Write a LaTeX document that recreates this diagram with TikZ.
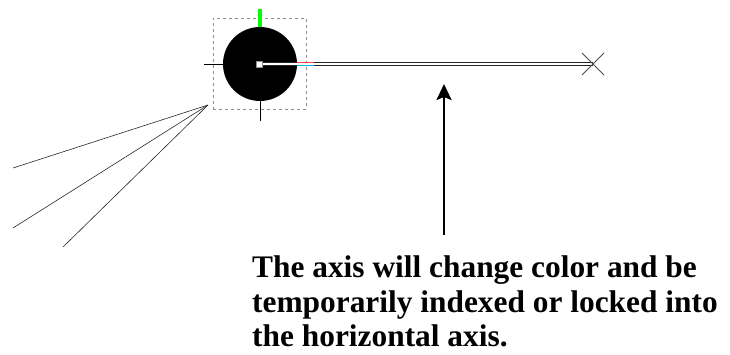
\documentclass[tikz,border=0pt]{standalone}
\usepackage{fontspec}
\setmainfont{Liberation Serif}
\usetikzlibrary{arrows.meta, positioning, fit}
\tikzset{
  hub/.style={circle, fill=black, minimum size=74bp, inner sep=0pt},
  pivot/.style={draw=black!45, fill=white, line width=0.5pt, minimum size=6bp, inner sep=0pt},
  selbox/.style={draw=black!45, dashed, dash pattern=on 3bp off 3bp, line width=0.8pt, inner sep=0pt},
  tick/.style={line width=0.8pt},
  axisline/.style={draw=black!85, line width=1.3bp, double=white, double distance=1.5bp},
  fan/.style={line width=0.6pt, black!85},
  pointer/.style={-{Stealth[length=16bp, width=15bp, inset=3bp]}, line width=2.6bp},
  note/.style={font=\bfseries\fontsize{31.5}{34.5}\selectfont, align=left, inner sep=0pt},
}

\begin{document}
\begin{tikzpicture}[x=1bp, y=-1bp]
  \useasboundingbox (0,0) rectangle (730,354);

  % ---------- the joint: black ball in its selection box ----------
  \node[hub] (ball) at (260, 64) {};
  \node[selbox, minimum width=93bp, minimum height=91bp] (sel) at (259.5, 63.5) {};
  \node[pivot] (pin) at (259.5, 64) {};
  \draw[green, line width=4.5bp] (ball.north) -- ++(0, -18);
  \draw[tick] (ball.west) -- ++(-19, 0);
  \draw[tick] (ball.south) -- ++(0, 20);

  % ---------- the axis, locked to the horizontal ----------
  \coordinate (tip) at (593, 64);
  \draw[axisline] (pin.east) -- (tip);
  \draw[red!75, line width=1bp] (297, 62.2) -- (314, 62.2);
  \draw[cyan, line width=0.8bp] (297, 65.8) -- (314, 65.8);
  \draw[black!70, line width=0.8pt] ([shift={(-11,-11)}]tip) -- ([shift={(11,11)}]tip);
  \draw[black!70, line width=0.8pt] ([shift={(-11,11)}]tip) -- ([shift={(11,-11)}]tip);

  % ---------- bones hanging off the selection ----------
  \coordinate (root) at (208, 105);
  \draw[fan] (root) -- (13, 168);
  \draw[fan] (root) -- (13, 228);
  \draw[fan] (root) -- (63, 247);

  % ---------- the caption and its pointer ----------
  \node[note, anchor=north west] (caption) at (252, 256)
    {The axis will change color and be\\
     temporarily indexed or locked into\\
     the horizontal axis.};
  \coordinate (foot) at (444, 235);
  \coordinate (aim) at (444, 84);
  \draw[pointer] (foot) -- (aim);

\end{tikzpicture}
\end{document}
